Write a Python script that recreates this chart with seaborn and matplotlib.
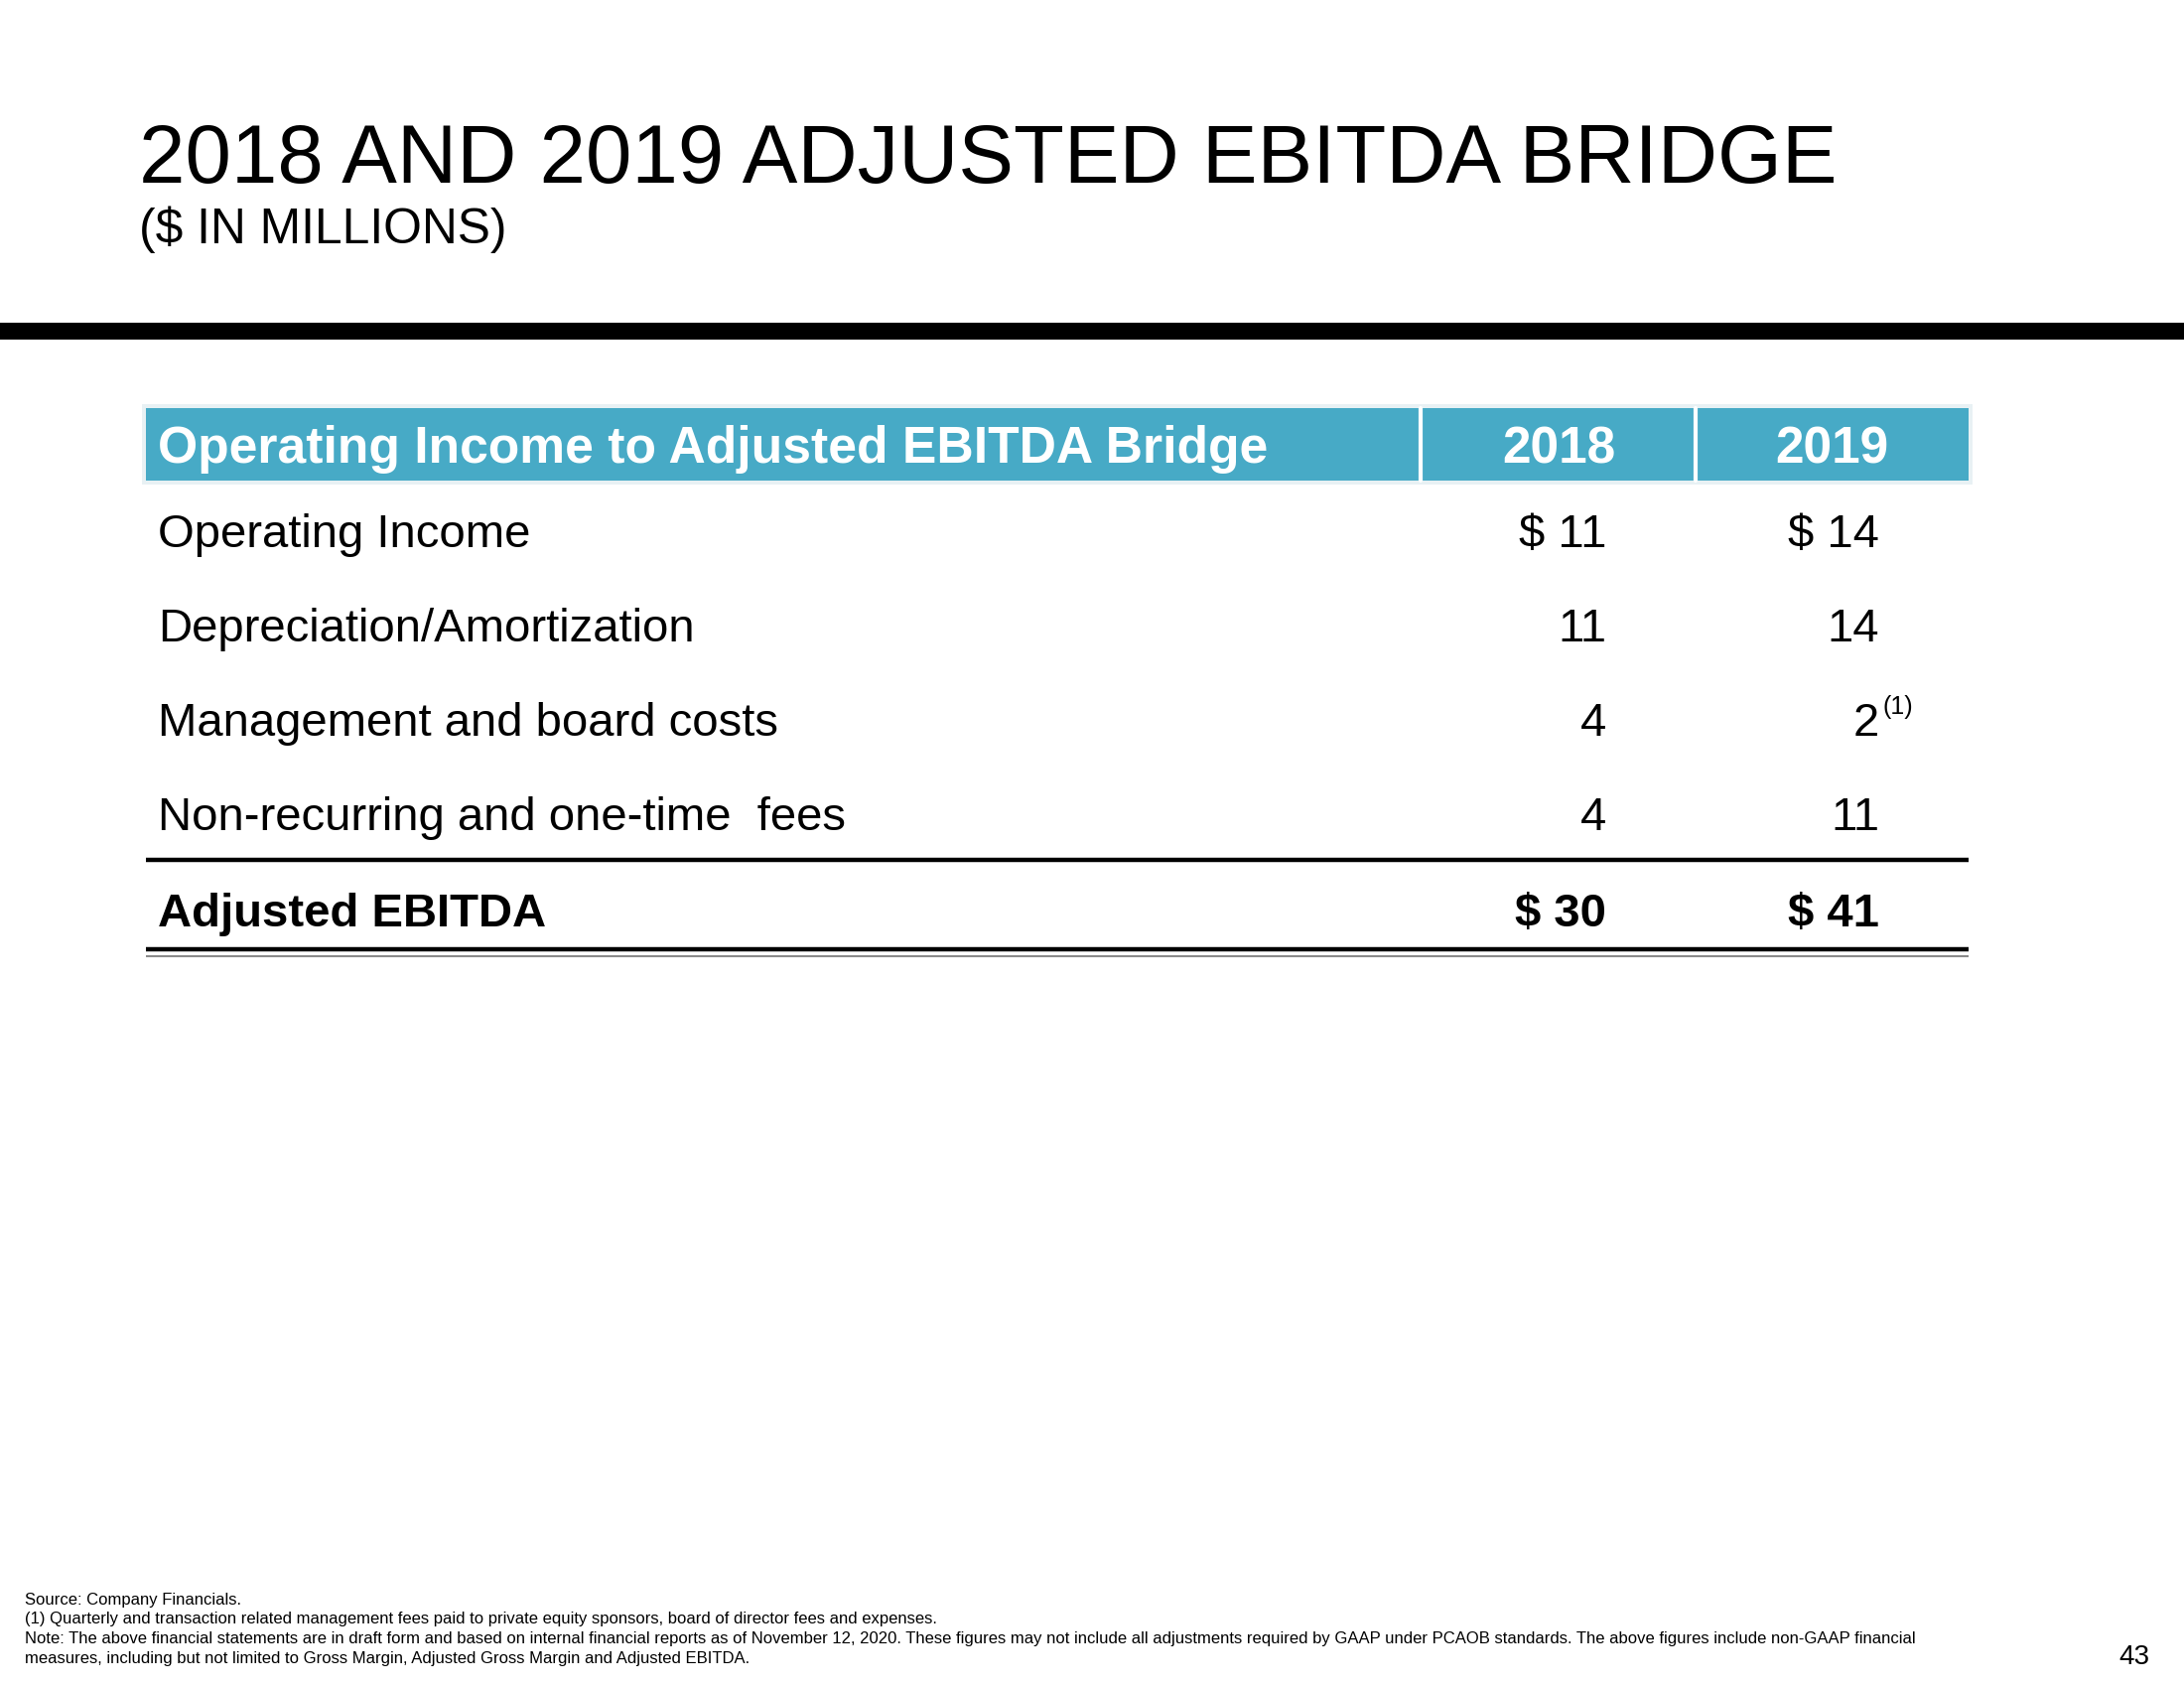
import matplotlib
matplotlib.use("Agg")
import matplotlib.pyplot as plt
from matplotlib.patches import Rectangle
import seaborn as sns

sns.set_theme(style="white")
plt.rcParams['font.family'] = ['Liberation Sans', 'DejaVu Sans']
plt.rcParams['text.color'] = 'black'

# table content
title = "2018 AND 2019 ADJUSTED EBITDA BRIDGE"
subtitle = "($ IN MILLIONS)"
header_label = "Operating Income to Adjusted EBITDA Bridge"
years = ["2018", "2019"]
row_labels = ["Operating Income", "Depreciation/Amortization",
              "Management and board costs", "Non-recurring and one-time  fees"]
vals_2018 = [11, 11, 4, 4]
vals_2019 = [14, 14, 2, 11]
total_label = "Adjusted EBITDA"
totals = [30, 41]
footnote_rows = {"2019": 2}  # row index carrying footnote (1)
footer_lines = [
    "Source: Company Financials.",
    "(1) Quarterly and transaction related management fees paid to private equity sponsors, board of director fees and expenses.",
    "Note: The above financial statements are in draft form and based on internal financial reports as of November 12, 2020. These figures may not include all adjustments required by GAAP under PCAOB standards. The above figures include non-GAAP financial",
    "measures, including but not limited to Gross Margin, Adjusted Gross Margin and Adjusted EBITDA.",
]
page_no = "43"

HEADER_BLUE = "#47AAC6"

fig = plt.figure(figsize=(22, 17), dpi=100)
ax = fig.add_axes([0, 0, 1, 1])
ax.set_xlim(0, 2200)
ax.set_ylim(1700, 0)
ax.axis("off")

# titles
ax.text(140, 184, title, fontsize=60, va="baseline", ha="left")
ax.text(140, 245, subtitle, fontsize=35.8, va="baseline", ha="left")
ax.add_patch(Rectangle((0, 325), 2200, 17, color="black", lw=0))

# header bar
left, right = 147, 1983
top, bottom = 411, 484
ax.add_patch(Rectangle((left - 4, top - 4), right - left + 8, bottom - top + 8,
                       facecolor="#E8F1F4", lw=0))
ax.add_patch(Rectangle((left, top), right - left, bottom - top, facecolor=HEADER_BLUE, lw=0))
for xd in [1431, 1708]:
    ax.plot([xd, xd], [top, bottom], color="white", lw=3)
ax.text(159, 466, header_label, fontsize=37.2, fontweight="bold", color="white", va="baseline")
col_centers = [1570, 1845]
for yr, xc in zip(years, col_centers):
    ax.text(xc, 466, yr, fontsize=37, fontweight="bold", color="white", va="baseline", ha="center")

# body rows
col_right = [1618, 1893]
baselines = [551, 646, 741, 836]
for i, (lab, v18, v19) in enumerate(zip(row_labels, vals_2018, vals_2019)):
    y = baselines[i]
    ax.text(159, y, lab, fontsize=34, va="baseline")
    s18 = f"$ {v18}" if i == 0 else f"{v18}"
    s19 = f"$ {v19}" if i == 0 else f"{v19}"
    ax.text(col_right[0], y, s18, fontsize=34, va="baseline", ha="right")
    ax.text(col_right[1], y, s19, fontsize=34, va="baseline", ha="right")
    if footnote_rows.get("2019") == i:
        ax.text(col_right[1] + 3, y - 22, "(1)", fontsize=18, va="baseline", ha="left")

# total
ax.plot([left, right], [866, 866], color="black", lw=3.2, solid_capstyle="butt")
ax.text(159, 933, total_label, fontsize=34, fontweight="bold", va="baseline")
for t, xr in zip(totals, col_right):
    ax.text(xr, 933, f"$ {t}", fontsize=34, fontweight="bold", va="baseline", ha="right")
ax.plot([left, right], [956, 956], color="black", lw=3.2, solid_capstyle="butt")
ax.plot([left, right], [963, 963], color="#8a8a8a", lw=1.5, solid_capstyle="butt")

# footer
for k, line in enumerate(footer_lines):
    ax.text(25, 1616 + k * 19.5, line, fontsize=12, va="baseline")
ax.text(2165, 1676, page_no, fontsize=20, va="baseline", ha="right")

fig.savefig("out.png", dpi=100, facecolor="white")
